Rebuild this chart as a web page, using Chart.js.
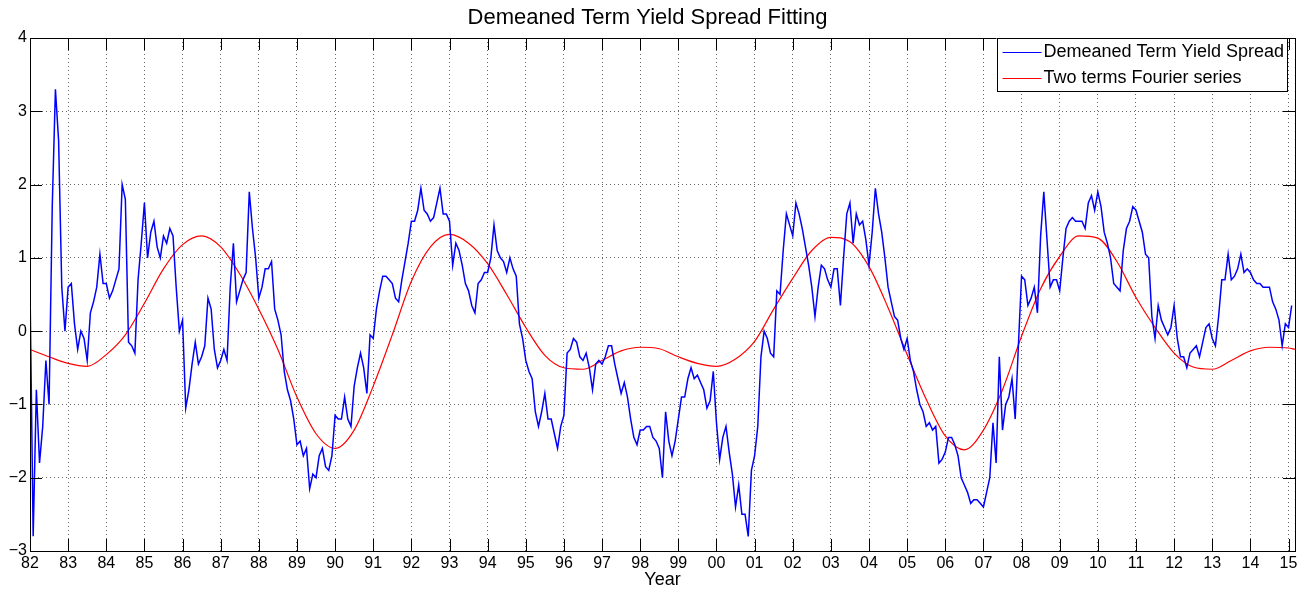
<!DOCTYPE html>
<html>
<head>
<meta charset="utf-8">
<title>Demeaned Term Yield Spread Fitting</title>
<script src="https://cdn.jsdelivr.net/npm/chart.js@4.4.1/dist/chart.umd.min.js"></script>
<style>
  html, body { margin: 0; padding: 0; background: #fff; }
  #wrap { width: 1303px; height: 592px; }
</style>
</head>
<body>
<div id="wrap"><canvas id="spread" width="1303" height="592"></canvas></div>
<script>
// monthly readings of the demeaned spread, starting Jan 1982
var spreadStart = 1982;
var spreadStep = 1 / 12;
var spread = [
  0.6, -2.8, -0.8, -1.8, -1.3, -0.4, -1.0, 1.7, 3.3, 2.6, 0.6, 0.0,          // 82
  0.6, 0.65, 0.1, -0.25, 0.0, -0.1, -0.4, 0.25, 0.4, 0.6, 1.05, 0.65,        // 83
  0.65, 0.45, 0.55, 0.7, 0.85, 2.0, 1.8, -0.15, -0.2, -0.3, 0.7, 1.2,        // 84
  1.75, 1.0, 1.35, 1.5, 1.15, 1.0, 1.3, 1.2, 1.4, 1.3, 0.6, 0.0,             // 85
  0.15, -1.05, -0.8, -0.45, -0.15, -0.45, -0.35, -0.2, 0.45, 0.3, -0.25, -0.5, // 86
  -0.4, -0.25, -0.4, 0.6, 1.2, 0.4, 0.55, 0.7, 0.8, 1.9, 1.4, 1.0,           // 87
  0.45, 0.6, 0.85, 0.85, 0.95, 0.3, 0.15, -0.05, -0.55, -0.8, -0.95, -1.2,   // 88
  -1.55, -1.5, -1.7, -1.6, -2.15, -1.95, -2.0, -1.7, -1.6, -1.85, -1.9, -1.7, // 89
  -1.15, -1.2, -1.2, -0.9, -1.2, -1.3, -0.75, -0.5, -0.3, -0.5, -0.85, -0.05, // 90
  -0.1, 0.3, 0.55, 0.75, 0.75, 0.7, 0.65, 0.45, 0.4, 0.7, 0.95, 1.2,         // 91
  1.5, 1.5, 1.65, 1.95, 1.65, 1.6, 1.5, 1.55, 1.75, 1.95, 1.6, 1.6,          // 92
  1.5, 0.9, 1.2, 1.1, 0.9, 0.65, 0.55, 0.35, 0.25, 0.65, 0.7, 0.8,           // 93
  0.8, 1.0, 1.45, 1.1, 1.0, 0.95, 0.8, 1.0, 0.85, 0.75, 0.1, -0.1,           // 94
  -0.4, -0.55, -0.65, -1.1, -1.3, -1.1, -0.85, -1.2, -1.2, -1.4, -1.6, -1.3, // 95
  -1.15, -0.3, -0.25, -0.1, -0.15, -0.35, -0.4, -0.3, -0.5, -0.8, -0.45, -0.4, // 96
  -0.45, -0.35, -0.2, -0.2, -0.45, -0.65, -0.85, -0.7, -0.9, -1.2, -1.45, -1.55, // 97
  -1.35, -1.35, -1.3, -1.3, -1.45, -1.5, -1.6, -2.0, -1.1, -1.5, -1.7, -1.5, // 98
  -1.2, -0.9, -0.9, -0.65, -0.5, -0.65, -0.6, -0.7, -0.8, -1.05, -0.95, -0.55, // 99
  -1.25, -1.75, -1.45, -1.3, -1.65, -1.95, -2.4, -2.1, -2.5, -2.5, -2.8, -1.9, // 00
  -1.7, -1.3, -0.35, 0.0, -0.1, -0.3, -0.35, 0.55, 0.5, 1.1, 1.6, 1.45,      // 01
  1.3, 1.75, 1.6, 1.4, 1.15, 0.9, 0.6, 0.2, 0.6, 0.9, 0.85, 0.7,             // 02
  0.6, 0.85, 0.85, 0.35, 1.0, 1.6, 1.75, 1.2, 1.6, 1.45, 1.5, 1.25,          // 03
  0.9, 1.35, 1.95, 1.6, 1.35, 1.0, 0.6, 0.4, 0.2, 0.15, -0.1, -0.25,         // 04
  -0.1, -0.4, -0.55, -0.8, -1.0, -1.1, -1.3, -1.25, -1.35, -1.3, -1.8, -1.75, // 05
  -1.65, -1.45, -1.45, -1.55, -1.7, -2.0, -2.1, -2.2, -2.35, -2.3, -2.3, -2.35, // 06
  -2.4, -2.2, -2.0, -1.25, -1.8, -0.35, -1.35, -1.0, -0.9, -0.65, -1.2, -0.2, // 07
  0.75, 0.7, 0.35, 0.45, 0.6, 0.25, 1.3, 1.9, 1.25, 0.6, 0.7, 0.7,           // 08
  0.55, 1.0, 1.4, 1.5, 1.55, 1.5, 1.5, 1.5, 1.4, 1.75, 1.85, 1.65,           // 09
  1.9, 1.7, 1.35, 1.2, 1.0, 0.65, 0.6, 0.55, 1.1, 1.4, 1.5, 1.7,             // 10
  1.65, 1.5, 1.35, 1.05, 1.0, 0.2, -0.1, 0.35, 0.15, 0.05, -0.05, 0.05,      // 11
  0.35, -0.1, -0.35, -0.35, -0.5, -0.3, -0.25, -0.2, -0.35, -0.15, 0.05, 0.1, // 12
  -0.1, -0.2, 0.2, 0.7, 0.7, 1.05, 0.7, 0.75, 0.85, 1.05, 0.8, 0.85,         // 13
  0.8, 0.7, 0.65, 0.65, 0.6, 0.6, 0.6, 0.4, 0.3, 0.15, -0.2, 0.1,            // 14
  0.05, 0.35                                                                  // 15
];

// fitted curve read every half year
var fitYears = [
  1982, 1982.5, 1983, 1983.5, 1984, 1984.5, 1985, 1985.5, 1986, 1986.5,
  1987, 1987.5, 1988, 1988.5, 1989, 1989.5, 1990, 1990.5, 1991, 1991.5,
  1992, 1992.5, 1993, 1993.5, 1994, 1994.5, 1995, 1995.5, 1996, 1996.5,
  1997, 1997.5, 1998, 1998.5, 1999, 1999.5, 2000, 2000.5, 2001, 2001.5,
  2002, 2002.5, 2003, 2003.5, 2004, 2004.5, 2005, 2005.5, 2006, 2006.5,
  2007, 2007.5, 2008, 2008.5, 2009, 2009.5, 2010, 2010.5, 2011, 2011.5,
  2012, 2012.5, 2013, 2013.5, 2014, 2014.5, 2015, 2015.17
];
var fitValues = [
  -0.25, -0.35, -0.44, -0.48, -0.32, -0.05, 0.38, 0.85, 1.18, 1.3,
  1.15, 0.78, 0.3, -0.25, -0.9, -1.4, -1.6, -1.35, -0.75, -0.05,
  0.68, 1.15, 1.32, 1.2, 0.92, 0.5, 0.05, -0.33, -0.5, -0.52,
  -0.4, -0.27, -0.22, -0.24, -0.35, -0.44, -0.48, -0.38, -0.14, 0.3,
  0.72, 1.1, 1.28, 1.22, 0.88, 0.32, -0.32, -0.93, -1.43, -1.62,
  -1.35, -0.8, -0.07, 0.58, 1.02, 1.3, 1.27, 0.95, 0.46, 0.05,
  -0.3, -0.49, -0.52, -0.4, -0.27, -0.22, -0.23, -0.25
];

var yearTicks = [1982, 1983, 1984, 1985, 1986, 1987, 1988, 1989, 1990, 1991,
  1992, 1993, 1994, 1995, 1996, 1997, 1998, 1999, 2000, 2001, 2002, 2003,
  2004, 2005, 2006, 2007, 2008, 2009, 2010, 2011, 2012, 2013, 2014, 2015];
var valueTicks = [-3, -2, -1, 0, 1, 2, 3, 4];

var seriesNames = ['Demeaned Term Yield Spread', 'Two terms Fourier series'];
var seriesColors = ['#0000ff', '#ff0000'];

var spreadPoints = spread.map(function (v, i) {
  return { x: spreadStart + i * spreadStep, y: v };
});
var fitPoints = fitYears.map(function (yr, i) {
  return { x: yr, y: fitValues[i] };
});

var FONT = "'Liberation Sans', Arial, Helvetica, sans-serif";
Chart.defaults.font.family = FONT;
Chart.defaults.color = '#000';

var TICK_LEN = 12;

// box round the axes with inward ticks, like matlab does
var axesBox = {
  id: 'axesBox',
  afterDatasetsDraw: function (chart) {
    var ctx = chart.ctx, a = chart.chartArea;
    var xs = chart.scales.x, ys = chart.scales.y;
    ctx.save();
    ctx.strokeStyle = '#000';
    ctx.lineWidth = 1;
    ctx.beginPath();
    xs.ticks.forEach(function (t) {
      var px = Math.round(xs.getPixelForValue(t.value)) + 0.5;
      ctx.moveTo(px, a.bottom); ctx.lineTo(px, a.bottom - TICK_LEN);
      ctx.moveTo(px, a.top); ctx.lineTo(px, a.top + TICK_LEN);
    });
    ys.ticks.forEach(function (t) {
      var py = Math.round(ys.getPixelForValue(t.value)) + 0.5;
      ctx.moveTo(a.left, py); ctx.lineTo(a.left + TICK_LEN, py);
      ctx.moveTo(a.right, py); ctx.lineTo(a.right - TICK_LEN, py);
    });
    ctx.stroke();
    ctx.strokeRect(Math.round(a.left) + 0.5, Math.round(a.top) + 0.5,
      Math.round(a.right - a.left), Math.round(a.bottom - a.top));
    ctx.restore();
  }
};

// legend box in the upper right corner
var boxLegend = {
  id: 'boxLegend',
  afterDraw: function (chart) {
    var ctx = chart.ctx, a = chart.chartArea;
    ctx.save();
    ctx.font = '18px ' + FONT;
    var textW = Math.max.apply(null, seriesNames.map(function (s) { return ctx.measureText(s).width; }));
    var right = Math.round(a.right) - 8;
    var lineLen = 39;
    var left = right - (6 + lineLen + 2 + textW + 3);
    var top = Math.round(a.top);
    var rowH = 26;
    var h = 53;
    ctx.fillStyle = '#fff';
    ctx.fillRect(left, top, right - left, h);
    ctx.strokeStyle = '#000';
    ctx.lineWidth = 1;
    ctx.strokeRect(Math.round(left) + 0.5, top + 0.5, Math.round(right - left), h);
    ctx.textBaseline = 'middle';
    ctx.textAlign = 'left';
    seriesNames.forEach(function (name, i) {
      var cy = top + 14 + i * rowH + 0.5;
      ctx.strokeStyle = seriesColors[i];
      ctx.beginPath();
      ctx.moveTo(left + 6, cy);
      ctx.lineTo(left + 6 + lineLen, cy);
      ctx.stroke();
      ctx.fillStyle = '#000';
      ctx.fillText(name, left + 6 + lineLen + 2, cy);
    });
    ctx.restore();
  }
};

var canvas = document.getElementById('spread');
var myChart = new Chart(canvas, {
  type: 'line',
  data: {
    datasets: [{
      label: seriesNames[0],
      data: spreadPoints,
      borderColor: seriesColors[0],
      borderWidth: 1.5,
      pointRadius: 0,
      tension: 0
    }, {
      label: seriesNames[1],
      data: fitPoints,
      borderColor: seriesColors[1],
      borderWidth: 1.2,
      pointRadius: 0,
      cubicInterpolationMode: 'monotone'
    }]
  },
  options: {
    responsive: false,
    animation: false,
    devicePixelRatio: 1,
    events: [],
    layout: { padding: { left: 0, right: 8, top: 0, bottom: 0 } },
    plugins: {
      legend: { display: false },
      tooltip: { enabled: false },
      title: {
        display: true,
        text: 'Demeaned Term Yield Spread Fitting',
        color: '#000',
        font: { size: 22, weight: 'normal' },
        padding: { top: 4.8, bottom: 6.8 }
      }
    },
    scales: {
      x: {
        type: 'linear',
        min: 1982,
        max: 2015.17,
        afterBuildTicks: function (s) {
          s.ticks = yearTicks.map(function (v) { return { value: v }; });
        },
        afterFit: function (s) { s.height = 41; },
        ticks: {
          autoSkip: false,
          maxRotation: 0,
          padding: 3,
          font: { size: 16 },
          callback: function (v) { return String(v % 100).padStart(2, '0'); }
        },
        grid: { color: 'rgba(0,0,0,0.6)', lineWidth: 1, drawTicks: false },
        border: { display: false, dash: [1, 3] },
        title: {
          display: true,
          text: 'Year',
          font: { size: 18 },
          padding: { top: 0, bottom: 1.2 }
        }
      },
      y: {
        min: -3,
        max: 4,
        afterBuildTicks: function (s) {
          s.ticks = valueTicks.map(function (v) { return { value: v }; });
        },
        afterFit: function (s) { s.width = 30; },
        ticks: {
          padding: 3,
          font: { size: 16 },
          callback: function (v) { return v < 0 ? '\u2212' + Math.abs(v) : String(v); }
        },
        grid: { color: 'rgba(0,0,0,0.6)', lineWidth: 1, drawTicks: false },
        border: { display: false, dash: [1, 3] }
      }
    }
  },
  plugins: [axesBox, boxLegend]
});
</script>
</body>
</html>
